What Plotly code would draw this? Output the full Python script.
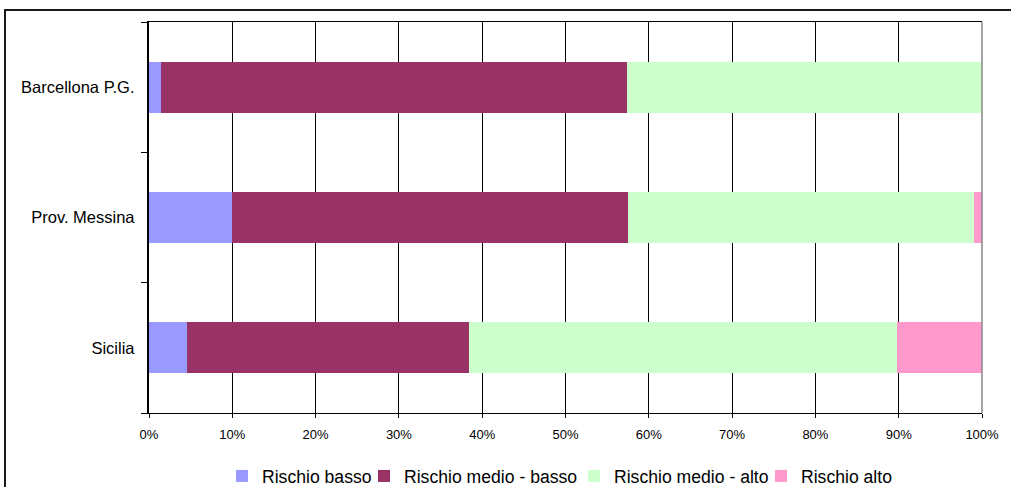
import plotly.graph_objects as go

categories = ["Barcellona P.G.", "Prov. Messina", "Sicilia"]
series_names = ["Rischio basso", "Rischio medio - basso", "Rischio medio - alto", "Rischio alto"]
rischio_basso = [0.014, 0.100, 0.046]
rischio_medio_basso = [0.560, 0.475, 0.338]
rischio_medio_alto = [0.426, 0.415, 0.514]
rischio_alto = [0.000, 0.010, 0.102]
colors = ["#9999FF", "#993366", "#CCFFCC", "#FF99CC"]
x_tickvals = [i / 10 for i in range(11)]
x_ticktext = [f"{i * 10}%" for i in range(11)]

W, H = 1011, 487
L, R, T, B = 149, 29, 22, 74
pw, ph = W - L - R, H - T - B

def px_x(p):
    return (p - L) / pw

def px_y(p):
    return (H - B - p) / ph

# legend text left edges (pixels), nudged between reference swatch and text positions
legend_text_px = [262, 404, 614, 801]
legend_ids = ["legend", "legend2", "legend3", "legend4"]

fig = go.Figure()
for name, vals, col, lid in zip(series_names,
                                [rischio_basso, rischio_medio_basso, rischio_medio_alto, rischio_alto],
                                colors, legend_ids):
    fig.add_trace(go.Bar(y=categories, x=vals, name=name, orientation="h", legend=lid,
                         showlegend=True, marker=dict(color=col, line=dict(width=0))))

legend_common = dict(orientation="h", xanchor="left", y=px_y(476), yanchor="middle",
                     font=dict(size=17.6), itemclick=False, itemwidth=30,
                     bgcolor="rgba(0,0,0,0)", visible=True)
legends = {}
for lid, px in zip(legend_ids, legend_text_px):
    legends[lid] = dict(legend_common, x=px_x(px - 40))

fig.update_layout(
    width=W, height=H,
    margin=dict(l=L, r=R, t=T, b=B, autoexpand=False),
    showlegend=True,
    barmode="stack", bargap=0.61,
    paper_bgcolor="white", plot_bgcolor="white",
    font=dict(family="Liberation Sans, Arial, sans-serif", color="black"),
    xaxis=dict(range=[0, 1], tickvals=x_tickvals, ticktext=x_ticktext,
               tickfont=dict(size=13), showgrid=True, gridcolor="black", gridwidth=1,
               showline=True, linecolor="black", linewidth=1, mirror=True,
               ticks="outside", ticklen=4, tickcolor="black", zeroline=False,
               ticklabelstandoff=5, fixedrange=True),
    yaxis=dict(categoryorder="array", categoryarray=categories[::-1],
               tickson="boundaries", ticks="outside", ticklen=6, tickcolor="black",
               showline=True, linecolor="black", linewidth=2, showgrid=False,
               tickfont=dict(size=16.5), ticksuffix="  ", fixedrange=True),
    shapes=[
        dict(type="rect", xref="paper", yref="paper",
             x0=px_x(5), x1=px_x(1015), y0=px_y(495), y1=px_y(10),
             line=dict(color="#1a1a1a", width=2)),
        dict(type="line", xref="paper", yref="paper", x0=1, x1=1, y0=0, y1=1,
             line=dict(color="#888888", width=1.5)),
    ],
    **legends,
)

fig.write_html("out.html")
